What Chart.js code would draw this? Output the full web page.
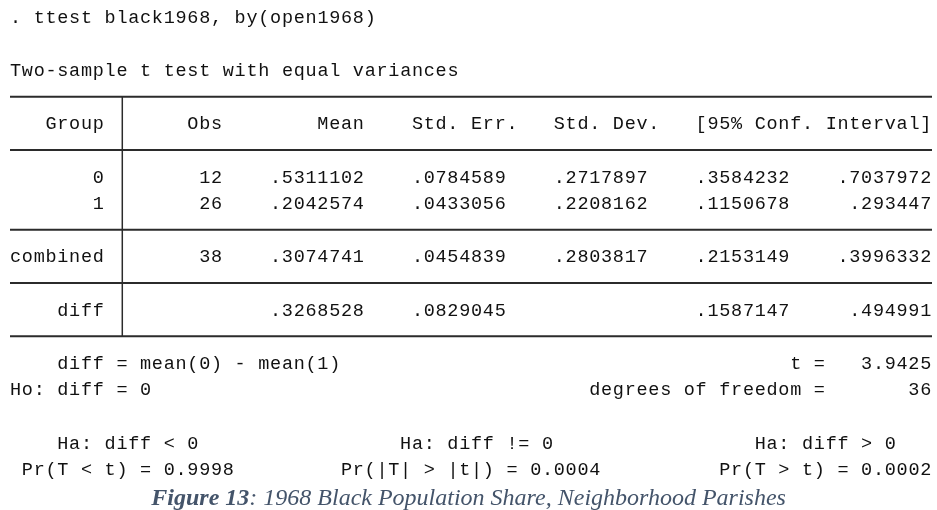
<!DOCTYPE html>
<html>
<head>
<meta charset="utf-8">
<script src="https://cdn.jsdelivr.net/npm/chart.js@4.4.1/dist/chart.umd.min.js"></script>
<style>
  html, body { margin: 0; padding: 0; background: #fff; }
  #myChart { display: block; }
</style>
</head>
<body>
<canvas id="myChart" width="937" height="510"></canvas>
<script>
// ttest 결과 값
const command = ". ttest black1968, by(open1968)";
const subtitle = "Two-sample t test with equal variances";
const headers = ["Group", "Obs", "Mean", "Std. Err.", "Std. Dev.", "[95% Conf. Interval]"];
const groups = ["0", "1", "combined", "diff"];
const obs = [12, 26, 38, null];
const meanVals = [0.5311102, 0.2042574, 0.3074741, 0.3268528];
const stdErr = [0.0784589, 0.0433056, 0.0454839, 0.0829045];
const stdDev = [0.2717897, 0.2208162, 0.2803817, null];
const ciLow = [0.3584232, 0.1150678, 0.2153149, 0.1587147];
const ciHigh = [0.7037972, 0.293447, 0.3996332, 0.494991];
const tStat = 3.9425;
const dfree = 36;
const haLabels = ["Ha: diff < 0", "Ha: diff != 0", "Ha: diff > 0"];
const prLabels = ["Pr(T < t)", "Pr(|T| > |t|)", "Pr(T > t)"];
const pValues = [0.9998, 0.0004, 0.0002];
const captionBold = "Figure 13";
const captionRest = ": 1968 Black Population Share, Neighborhood Parishes";

// 화면 배치 (문자 칸 / 줄 단위)
const COLS = 78;
const ROWS = 18;
const groupRows = [6, 7, 9, 11];
const ruleRows = [3, 5, 8, 10, 12];
const headerEnds = [8, 18, 30, 43, 55, 78];
const valueEnds = [8, 18, 30, 42, 54, 66, 78];

function fmt(v) {
    if (v === null || v === undefined) return "";
    return String(v).replace(/^0\./, ".");
}

// 오른쪽 정렬 셀
function cellAt(endCol, row, text) {
    return { x: endCol - text.length, y: row, text: text };
}

const monoCells = [];
monoCells.push({ x: 0, y: 0, text: command });
monoCells.push({ x: 0, y: 2, text: subtitle });
headers.forEach((h, i) => monoCells.push(cellAt(headerEnds[i], 4, h)));
groups.forEach((g, i) => {
    const row = groupRows[i];
    const vals = [g, obs[i] === null ? "" : String(obs[i]), fmt(meanVals[i]), fmt(stdErr[i]),
                  fmt(stdDev[i]), fmt(ciLow[i]), fmt(ciHigh[i])];
    vals.forEach((v, k) => { if (v) monoCells.push(cellAt(valueEnds[k], row, v)); });
});
monoCells.push({ x: 4, y: 13, text: "diff = mean(0) - mean(1)" });
monoCells.push({ x: 66, y: 13, text: "t = " });
monoCells.push(cellAt(78, 13, tStat.toFixed(4)));
monoCells.push({ x: 0, y: 14, text: "Ho: diff = 0" });
monoCells.push({ x: 49, y: 14, text: "degrees of freedom = " });
monoCells.push(cellAt(78, 14, String(dfree)));
[4, 33, 63].forEach((c, i) => monoCells.push({ x: c, y: 16, text: haLabels[i] }));
[1, 28, 60].forEach((c, i) => monoCells.push({ x: c, y: 17, text: prLabels[i] + " = " + pValues[i].toFixed(4) }));

const ruleSets = ruleRows.map(r => ({
    data: [{ x: 0, y: r }, { x: COLS, y: r }],
    showLine: true, borderColor: "#2b2b2b", borderWidth: 2, pointRadius: 0
}));
ruleSets.push({
    data: [{ x: 9.5, y: 3 }, { x: 9.5, y: 12 }],
    showLine: true, borderColor: "#2b2b2b", borderWidth: 1.5, pointRadius: 0
});

const textPlugin = {
    id: "textCells",
    afterDatasetsDraw(chart) {
        const ctx = chart.ctx;
        const colW = chart.scales.x.getPixelForValue(1) - chart.scales.x.getPixelForValue(0);
        chart.data.datasets.forEach((ds, i) => {
            if (!ds.textKind) return;
            const meta = chart.getDatasetMeta(i);
            ctx.save();
            meta.data.forEach((pt, j) => {
                const cell = ds.data[j];
                if (ds.textKind === "mono") {
                    const size = 18.5;
                    ctx.font = size + 'px "Liberation Mono", "Courier New", monospace';
                    ctx.letterSpacing = (colW - size * 0.6) + "px";
                    ctx.fillStyle = "#111";
                    ctx.textAlign = "left";
                    ctx.textBaseline = "alphabetic";
                    ctx.fillText(cell.text, pt.x, pt.y + 6);
                } else {
                    ctx.letterSpacing = "0px";
                    ctx.fillStyle = "#44546A";
                    ctx.textBaseline = "alphabetic";
                    ctx.textAlign = "left";
                    const bold = 'italic bold 24px "Liberation Serif", "Times New Roman", serif';
                    const ital = 'italic 24px "Liberation Serif", "Times New Roman", serif';
                    ctx.font = bold;
                    const w1 = ctx.measureText(cell.bold).width;
                    ctx.font = ital;
                    const w2 = ctx.measureText(cell.rest).width;
                    const x0 = pt.x - (w1 + w2) / 2;
                    ctx.font = bold;
                    ctx.fillText(cell.bold, x0, pt.y + 9);
                    ctx.font = ital;
                    ctx.fillText(cell.rest, x0 + w1, pt.y + 9);
                }
            });
            ctx.restore();
        });
    }
};

let chart;

function initChart() {
    const ctx = document.getElementById("myChart").getContext("2d");
    chart = new Chart(ctx, {
        type: "scatter",
        data: {
            datasets: [
                ...ruleSets,
                { data: monoCells, textKind: "mono", pointRadius: 0 },
                { data: [{ x: 38.8, y: ROWS, bold: captionBold, rest: captionRest }], textKind: "caption", pointRadius: 0 }
            ]
        },
        options: {
            responsive: false,
            animation: false,
            layout: { padding: { left: 10, right: 5, top: 17, bottom: 14.2 } },
            scales: {
                x: { type: "linear", min: 0, max: COLS, display: false },
                y: { type: "linear", min: 0, max: ROWS, reverse: true, display: false }
            },
            plugins: {
                legend: { display: false },
                tooltip: { enabled: false }
            }
        },
        plugins: [textPlugin]
    });
}

window.onload = function () {
    initChart();
};
</script>
</body>
</html>
